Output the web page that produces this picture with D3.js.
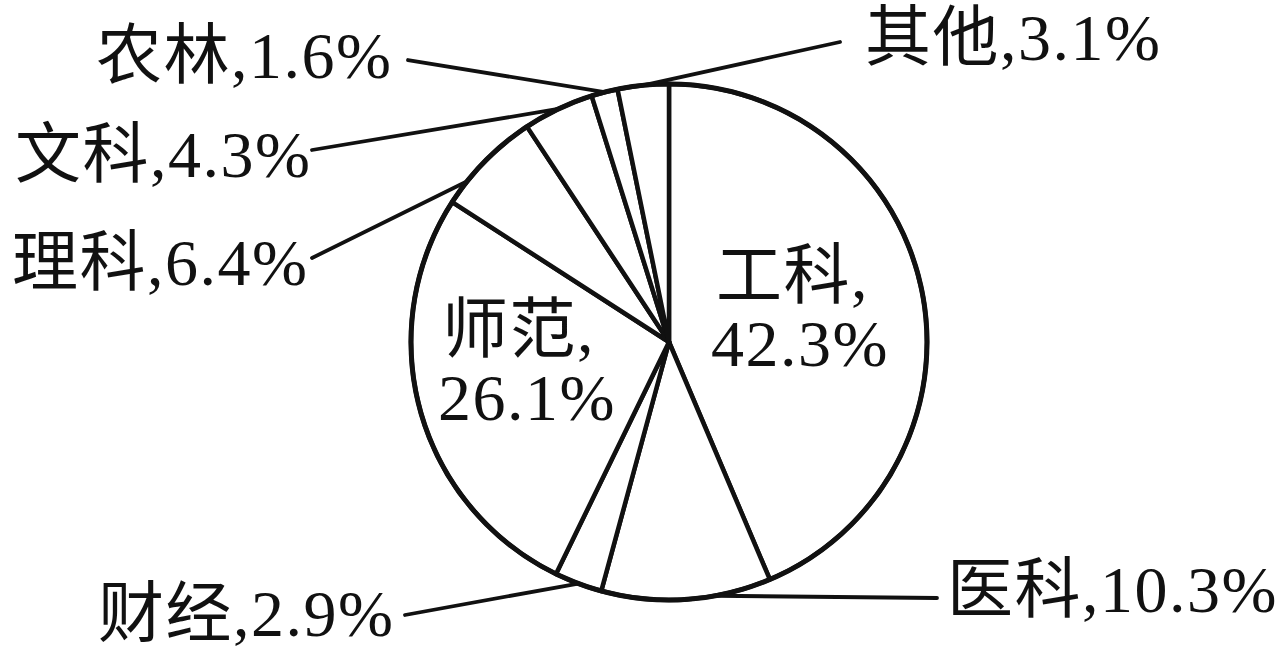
<!DOCTYPE html>
<html>
<head>
<meta charset="utf-8">
<script src="https://cdn.jsdelivr.net/npm/d3@7"></script>
<style>
  html, body { margin: 0; padding: 0; background: #fff; }
  svg { display: block; }
  text { font-family: "Liberation Serif", "Noto Sans CJK SC", serif; fill: #111; letter-spacing: 1.5px; }
</style>
</head>
<body>
<svg id="chart" width="1288" height="652"></svg>
<script>
// ---- data ----
const categories = ["工科", "医科", "财经", "师范", "理科", "文科", "农林", "其他"];
const values = [42.3, 10.3, 2.9, 26.1, 6.4, 4.3, 1.6, 3.1];

// ---- layout ----
const W = 1288, H = 652;
const cx = 669, cy = 342, R = 258;
const fontSize = 66;
const outside = {
  "其他": { tx: 865, ty: 60,  lx: 840, ly: 42,  f: 0.5 },
  "农林": { tx: 96,  ty: 78,  lx: 408, ly: 60,  f: 0.5 },
  "文科": { tx: 15,  ty: 177, lx: 312, ly: 150, f: 0.5 },
  "理科": { tx: 12,  ty: 285, lx: 312, ly: 258, f: 0.24 },
  "财经": { tx: 98,  ty: 636, lx: 405, ly: 615, f: 0.5 },
  "医科": { tx: 947, ty: 612, lx: 937, ly: 598, f: 0.33 }
};
const inside = {
  "工科": { x1: 716, y1: 298, x2: 711, y2: 366 },
  "师范": { x1: 442, y1: 352, x2: 438, y2: 420 }
};

const svg = d3.select("#chart");
const g = svg.append("g").attr("transform", `translate(${cx},${cy})`);

const pie = d3.pie().sort(null).value(d => d.v);
const data = categories.map((c, i) => ({ c, v: values[i] }));
const arcs = pie(data);
const arc = d3.arc().innerRadius(0).outerRadius(R);

g.selectAll("path.slice")
  .data(arcs)
  .join("path")
  .attr("class", "slice")
  .attr("d", arc)
  .attr("fill", "#fff")
  .attr("stroke", "#111")
  .attr("stroke-width", 4.5)
  .attr("stroke-linejoin", "round");

g.append("circle").attr("r", R).attr("fill", "none").attr("stroke", "#111").attr("stroke-width", 5);

const fmt = v => d3.format(".1f")(v) + "%";

arcs.forEach(a => {
  const o = outside[a.data.c];
  if (!o) return;
  const ang = a.startAngle + o.f * (a.endAngle - a.startAngle);
  const px = Math.sin(ang) * R, py = -Math.cos(ang) * R;
  g.append("line")
    .attr("x1", px).attr("y1", py)
    .attr("x2", o.lx - cx).attr("y2", o.ly - cy)
    .attr("stroke", "#111").attr("stroke-width", 3.8).attr("stroke-linecap", "round");
  svg.append("text")
    .attr("x", o.tx).attr("y", o.ty)
    .attr("font-size", fontSize)
    .text(a.data.c + "," + fmt(a.data.v));
});

arcs.forEach(a => {
  const o = inside[a.data.c];
  if (!o) return;
  svg.append("text").attr("x", o.x1).attr("y", o.y1).attr("font-size", fontSize).text(a.data.c + ",");
  svg.append("text").attr("x", o.x2).attr("y", o.y2).attr("font-size", fontSize).text(fmt(a.data.v));
});
</script>
</body>
</html>
